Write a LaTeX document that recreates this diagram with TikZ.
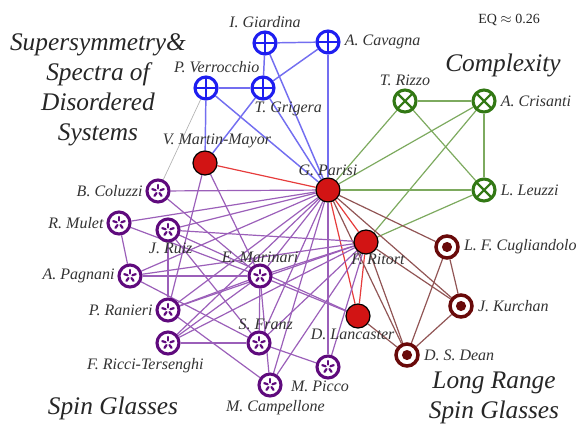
\documentclass[tikz,border=0pt]{standalone}
\usepackage{fontspec}
\setmainfont{Liberation Serif}
\usepackage{tikz}
\usetikzlibrary{positioning}
\usetikzlibrary{backgrounds}
\definecolor{susyblue}{RGB}{30, 30, 240}
\definecolor{susyedge}{RGB}{115, 110, 240}
\definecolor{cplxgreen}{RGB}{50, 120, 20}
\definecolor{cplxedge}{RGB}{125, 170, 95}
\definecolor{sgpurple}{RGB}{95, 10, 125}
\definecolor{sgedge}{RGB}{155, 95, 185}
\definecolor{lrbrown}{RGB}{105, 10, 10}
\definecolor{lredge}{RGB}{145, 85, 85}
\definecolor{parisired}{RGB}{210, 20, 20}
\definecolor{rededge}{RGB}{230, 60, 60}
\tikzset{susy/.style = {circle, draw = susyblue, fill = white, line width = 2.3pt, inner sep = 0, minimum size = 16.5pt,
    path picture = {\draw[susyblue, line width = 1.6pt] (path picture bounding box.north) -- (path picture bounding box.south)
      (path picture bounding box.west) -- (path picture bounding box.east);}}}
\tikzset{cplx/.style = {circle, draw = cplxgreen, fill = white, line width = 2.3pt, inner sep = 0, minimum size = 16.5pt,
    path picture = {\draw[cplxgreen, line width = 1.6pt] (path picture bounding box.north west) -- (path picture bounding box.south east)
      (path picture bounding box.south west) -- (path picture bounding box.north east);}}}
\tikzset{sg/.style = {circle, draw = sgpurple, fill = white, line width = 2.3pt, inner sep = 0, minimum size = 16.5pt,
    path picture = {\foreach \a in {90, 162, 234, 306, 378}
      \draw[sgpurple, line width = 1.7pt, line cap = round] (path picture bounding box.center) ++(\a:1.9pt) -- ++(\a:2.6pt);}}}
\tikzset{lr/.style = {circle, draw = lrbrown, fill = white, line width = 2.6pt, inner sep = 0, minimum size = 16.5pt,
    path picture = {\fill[lrbrown] (path picture bounding box.center) circle (3.8pt);}}}
\tikzset{hub/.style = {circle, draw = black, fill = parisired, line width = 0.9pt, inner sep = 0, minimum size = 18pt}}
\tikzset{lbl/.style = {font = \itshape\fontsize{12}{12}\selectfont, text = black!80, inner sep = 1pt}}
\tikzset{head/.style = {font = \itshape\fontsize{19}{22.5}\selectfont, text = black!85, align = center, inner sep = 0}}

\begin{document}
\begin{tikzpicture}[x = 0.75pt, y = -0.75pt]
      \useasboundingbox (0, 0) rectangle (584, 429);
      % Supersymmetry
      \node [susy] (gi) at (265, 43) {};
      \node [susy] (ca) at (328, 42) {};
      \node [susy] (pv) at (206, 88) {};
      \node [susy] (tg) at (263, 88) {};
      % Complexity
      \node [cplx] (tr) at (405, 101) {};
      \node [cplx] (ac) at (484, 101) {};
      \node [cplx] (ll) at (484, 190) {};
      % hubs
      \node [hub] (mm) at (205, 163) {};
      \node [hub] (gp) at (328, 190) {};
      \node [hub] (fr) at (366, 242) {};
      \node [hub] (dl) at (358, 316) {};
      % Long range
      \node [lr] (lc) at (447, 247) {};
      \node [lr] (jk) at (461, 306) {};
      \node [lr] (dd) at (407, 355) {};
      % Spin glasses
      \node [sg] (bc) at (158, 191) {};
      \node [sg] (rm) at (119, 223) {};
      \node [sg] (jr) at (168, 230) {};
      \node [sg] (ap) at (130, 276) {};
      \node [sg] (em) at (260, 276) {};
      \node [sg] (pr) at (168, 310) {};
      \node [sg] (ft) at (168, 343) {};
      \node [sg] (sf) at (259, 343) {};
      \node [sg] (mc) at (270, 385) {};
      \node [sg] (mp) at (328, 367) {};

      \node [lbl, above = 1pt of gi] (gi-l) {I. Giardina};
      \node [lbl, right = 2pt of ca] (ca-l) {A. Cavagna};
      \node [lbl, above = 1pt of pv, xshift = 8pt] (pv-l) {P. Verrocchio};
      \node [lbl, below = 0pt of tg, xshift = 19pt] (tg-l) {T. Grigera};
      \node [lbl, above = 1pt of mm, xshift = 9pt] (mm-l) {V. Martin-Mayor};
      \node [lbl, above = 0pt of gp] (gp-l) {G. Parisi};
      \node [lbl, above = 1pt of tr] (tr-l) {T. Rizzo};
      \node [lbl, right = 2pt of ac] (ac-l) {A. Crisanti};
      \node [lbl, right = 2pt of ll] (ll-l) {L. Leuzzi};
      \node [lbl, below = -2pt of fr, xshift = 9pt] (fr-l) {F. Ritort};
      \node [lbl, below = -1pt of dl, xshift = -4pt] (dl-l) {D. Lancaster};
      \node [lbl, right = 2pt of lc] (lc-l) {L. F. Cugliandolo};
      \node [lbl, right = 2pt of jk] (jk-l) {J. Kurchan};
      \node [lbl, right = 2pt of dd] (dd-l) {D. S. Dean};
      \node [lbl, left = 1pt of bc] (bc-l) {B. Coluzzi};
      \node [lbl, left = 1pt of rm] (rm-l) {R. Mulet};
      \node [lbl, below = -1pt of jr, xshift = 2pt] (jr-l) {J. Ruiz};
      \node [lbl, left = 1pt of ap] (ap-l) {A. Pagnani};
      \node [lbl, above = -1pt of em] (em-l) {E. Marinari};
      \node [lbl, left = 1pt of pr] (pr-l) {P. Ranieri};
      \node [lbl, below = 1pt of ft, xshift = -17pt] (ft-l) {F. Ricci-Tersenghi};
      \node [lbl, above = -1pt of sf, xshift = 5pt] (sf-l) {S. Franz};
      \node [lbl, below = 1pt of mc, xshift = 4pt] (mc-l) {M. Campellone};
      \node [lbl, below = 0pt of mp, xshift = -6pt] (mp-l) {M. Picco};

      \node [head] (susy-t) at (98, 90) {Supersymmetry\&\\Spectra of\\Disordered\\Systems};
      \node [head] (cplx-t) at (503, 65) {Complexity};
      \node [head] (sg-t) at (113, 408) {Spin Glasses};
      \node [head] (lr-t) at (494, 398) {Long Range\\Spin Glasses};
      \node [font = \fontsize{10.5}{12}\selectfont, text = black!85] (eq) at (509, 20) {EQ $\approx$ 0.26};

      \begin{scope}[on background layer]
        \foreach \a/\b in {gi/ca, gi/tg, gi/gp, ca/tg, ca/gp, pv/tg, pv/mm, pv/gp, tg/mm, tg/gp}
          \draw [susyedge, line width = 1.1pt] (\a) -- (\b);
        \draw [black!30, line width = 0.5pt] (pv) -- (bc);
        \foreach \a/\b in {tr/ac, tr/gp, tr/ll, ac/gp, ac/ll, ac/fr, gp/ll, ll/fr}
          \draw [cplxedge, line width = 0.9pt] (\a) -- (\b);
        \foreach \a/\b in {mm/gp, gp/fr, gp/dl, fr/dl}
          \draw [rededge, line width = 0.9pt] (\a) -- (\b);
        \foreach \a/\b in {gp/lc, gp/jk, gp/dd, fr/jk, fr/dd, dl/dd, lc/jk, lc/dd, jk/dd}
          \draw [lredge, line width = 0.9pt] (\a) -- (\b);
        \foreach \b in {bc, rm, jr, ap, em, pr, ft, sf, mc, mp}
          \draw [sgedge, line width = 0.9pt] (gp) -- (\b);
        \foreach \b in {jr, ap, em, pr, ft, sf, mc, mp}
          \draw [sgedge, line width = 0.9pt] (fr) -- (\b);
        \foreach \a/\b in {mm/pr, mm/em, bc/em, rm/ap, rm/em, jr/pr, jr/sf, jr/dl, ap/em, ap/sf,
                           pr/em, pr/mc, ft/sf, ft/em, em/sf, em/dl, sf/mp, mc/em}
          \draw [sgedge, line width = 0.9pt] (\a) -- (\b);
      \end{scope}
    \end{tikzpicture}
\end{document}
